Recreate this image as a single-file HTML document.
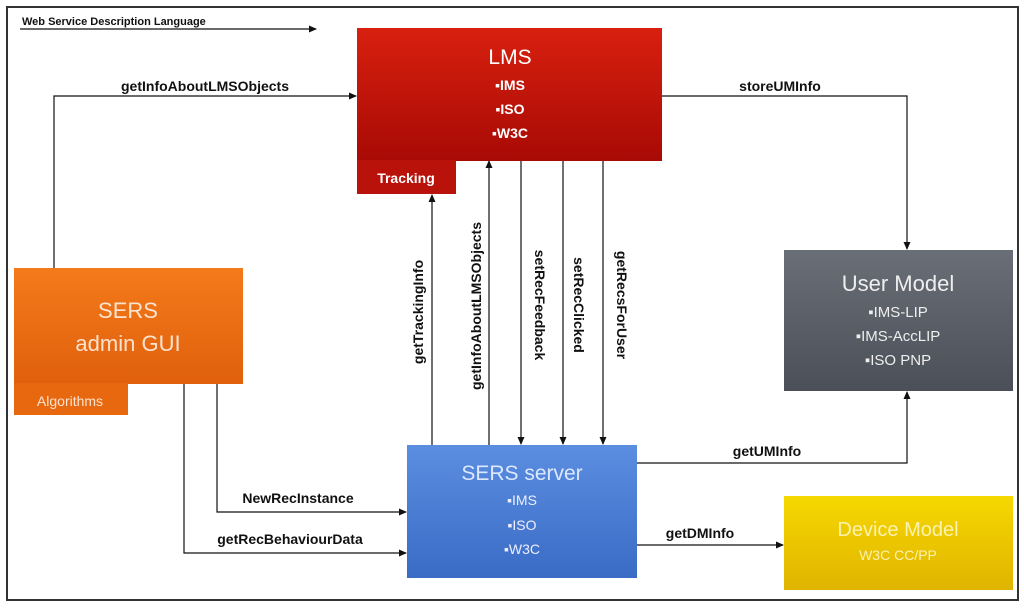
<!DOCTYPE html>
<html><head><meta charset="utf-8"><style>
html,body{margin:0;padding:0;background:#fff;}
svg{display:block;}
text{font-family:"Liberation Sans",sans-serif;}
.l{font-size:14px;font-weight:bold;fill:#111;}
.w{fill:#fff;}
</style></head><body>
<svg width="1024" height="608" viewBox="0 0 1024 608" xmlns="http://www.w3.org/2000/svg">
<defs>
<marker id="a" markerWidth="8" markerHeight="8" refX="7" refY="4" orient="auto" markerUnits="userSpaceOnUse"><path d="M0,0.5 L8,4 L0,7.5z" fill="#111"/></marker>
<linearGradient id="red" x1="0" y1="0" x2="0" y2="1"><stop offset="0" stop-color="#d8200f"/><stop offset="1" stop-color="#a80a05"/></linearGradient>
<linearGradient id="org" x1="0" y1="0" x2="0" y2="1"><stop offset="0" stop-color="#f47a1a"/><stop offset="1" stop-color="#e0600c"/></linearGradient>
<linearGradient id="gry" x1="0" y1="0" x2="0" y2="1"><stop offset="0" stop-color="#6a6e77"/><stop offset="1" stop-color="#4b4f57"/></linearGradient>
<linearGradient id="blu" x1="0" y1="0" x2="0" y2="1"><stop offset="0" stop-color="#5b8de0"/><stop offset="1" stop-color="#3a6cc6"/></linearGradient>
<linearGradient id="yel" x1="0" y1="0" x2="0" y2="1"><stop offset="0" stop-color="#f6d800"/><stop offset="1" stop-color="#e0b400"/></linearGradient>
</defs>
<rect x="7" y="7" width="1011" height="593" fill="#fff" stroke="#333" stroke-width="2"/>

<text x="22" y="25" style="font-size:11px;font-weight:bold" fill="#111">Web Service Description Language</text>
<line x1="20" y1="29" x2="316" y2="29" stroke="#111" stroke-width="1.2" marker-end="url(#a)"/>

<!-- LMS -->
<rect x="357" y="28" width="305" height="133" fill="url(#red)"/>
<rect x="357" y="160" width="99" height="34" fill="#b8120a"/>
<text x="510" y="64" text-anchor="middle" class="w" style="font-size:21px">LMS</text>
<text x="510" y="90" text-anchor="middle" class="w" style="font-size:14px;font-weight:bold">▪IMS</text>
<text x="510" y="114" text-anchor="middle" class="w" style="font-size:14px;font-weight:bold">▪ISO</text>
<text x="510" y="138" text-anchor="middle" class="w" style="font-size:14px;font-weight:bold">▪W3C</text>
<text x="406" y="183" text-anchor="middle" class="w" style="font-size:14px;font-weight:bold">Tracking</text>

<!-- admin -->
<rect x="14" y="268" width="229" height="116" fill="url(#org)"/>
<rect x="14" y="383" width="114" height="32" fill="#e8680f"/>
<text x="128" y="318" text-anchor="middle" fill="#fbe3cf" style="font-size:22px">SERS</text>
<text x="128" y="351" text-anchor="middle" fill="#fbe3cf" style="font-size:22px">admin GUI</text>
<text x="70" y="406" text-anchor="middle" fill="#fbe3cf" style="font-size:14px">Algorithms</text>

<!-- User Model -->
<rect x="784" y="250" width="229" height="141" fill="url(#gry)"/>
<text x="898" y="291" text-anchor="middle" fill="#eee" style="font-size:22px">User Model</text>
<text x="898" y="317" text-anchor="middle" fill="#eee" style="font-size:15px">▪IMS-LIP</text>
<text x="898" y="341" text-anchor="middle" fill="#eee" style="font-size:15px">▪IMS-AccLIP</text>
<text x="898" y="365" text-anchor="middle" fill="#eee" style="font-size:15px">▪ISO PNP</text>

<!-- SERS server -->
<rect x="407" y="445" width="230" height="133" fill="url(#blu)"/>
<text x="522" y="480" text-anchor="middle" fill="#dce8ff" style="font-size:21px">SERS server</text>
<text x="522" y="505" text-anchor="middle" fill="#eef" style="font-size:14px">▪IMS</text>
<text x="522" y="530" text-anchor="middle" fill="#eef" style="font-size:14px">▪ISO</text>
<text x="522" y="554" text-anchor="middle" fill="#eef" style="font-size:14px">▪W3C</text>

<!-- Device Model -->
<rect x="784" y="496" width="229" height="94" fill="url(#yel)"/>
<text x="898" y="536" text-anchor="middle" fill="#fbf2b0" style="font-size:20px">Device Model</text>
<text x="898" y="560" text-anchor="middle" fill="#fbf2b0" style="font-size:14px">W3C CC/PP</text>

<g stroke="#111" stroke-width="1.2" fill="none">
<polyline points="54,268 54,96 356,96" marker-end="url(#a)"/>
<polyline points="662,96 907,96 907,249" marker-end="url(#a)"/>
<line x1="432" y1="445" x2="432" y2="195" marker-end="url(#a)"/>
<line x1="489" y1="445" x2="489" y2="161" marker-end="url(#a)"/>
<line x1="521" y1="161" x2="521" y2="444" marker-end="url(#a)"/>
<line x1="563" y1="161" x2="563" y2="444" marker-end="url(#a)"/>
<line x1="603" y1="161" x2="603" y2="444" marker-end="url(#a)"/>
<polyline points="637,463 907,463 907,392" marker-end="url(#a)"/>
<polyline points="217,384 217,512 406,512" marker-end="url(#a)"/>
<polyline points="184,384 184,553 406,553" marker-end="url(#a)"/>
<line x1="637" y1="545" x2="783" y2="545" marker-end="url(#a)"/>
</g>

<text x="205" y="91" text-anchor="middle" class="l">getInfoAboutLMSObjects</text>
<text x="780" y="91" text-anchor="middle" class="l">storeUMInfo</text>
<text x="767" y="456" text-anchor="middle" class="l">getUMInfo</text>
<text x="700" y="538" text-anchor="middle" class="l">getDMInfo</text>
<text x="298" y="503" text-anchor="middle" class="l">NewRecInstance</text>
<text x="290" y="544" text-anchor="middle" class="l">getRecBehaviourData</text>

<text transform="translate(423,312) rotate(-90)" text-anchor="middle" class="l">getTrackingInfo</text>
<text transform="translate(481,306) rotate(-90)" text-anchor="middle" class="l">getInfoAboutLMSObjects</text>
<text transform="translate(535,305) rotate(90)" text-anchor="middle" class="l">setRecFeedback</text>
<text transform="translate(574,305) rotate(90)" text-anchor="middle" class="l">setRecClicked</text>
<text transform="translate(617,305) rotate(90)" text-anchor="middle" class="l">getRecsForUser</text>
</svg>
</body></html>
